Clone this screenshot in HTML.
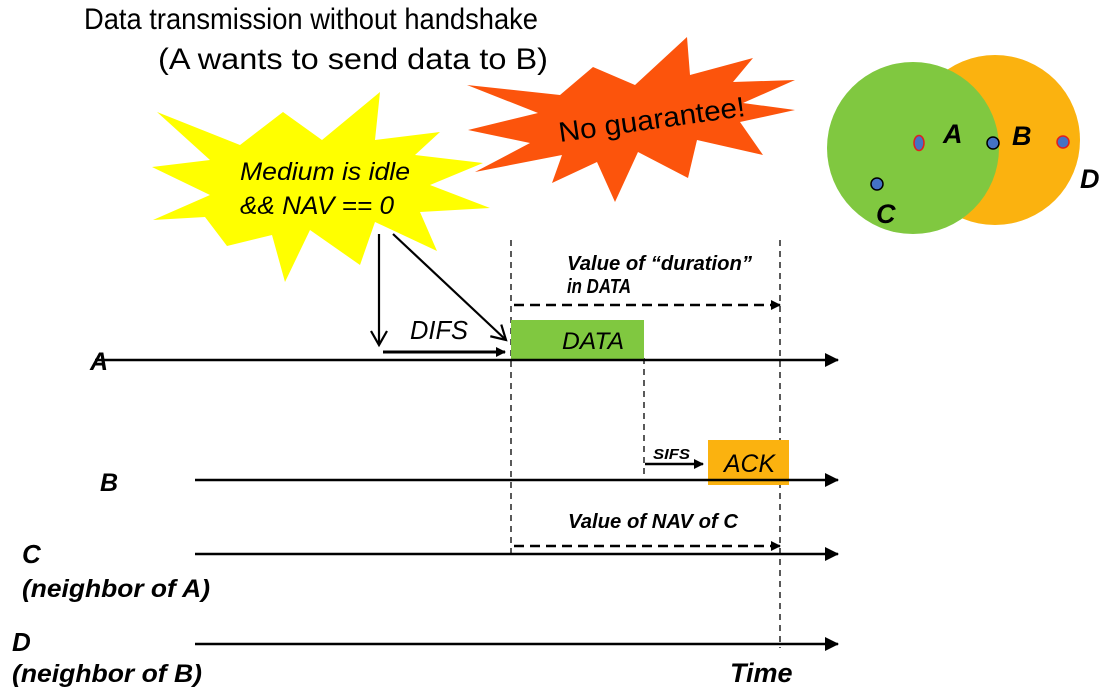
<!DOCTYPE html>
<html><head><meta charset="utf-8"><style>
html,body{margin:0;padding:0;background:#fff;width:1112px;height:696px;overflow:hidden}
svg{display:block}
text{font-family:"Liberation Sans",Arial,sans-serif}
.bi{font-weight:bold;font-style:italic}
</style></head><body>
<svg width="1112" height="696" viewBox="0 0 1112 696" xmlns="http://www.w3.org/2000/svg">
<defs>
<marker id="ah" markerWidth="10" markerHeight="10" refX="9" refY="5" orient="auto" markerUnits="userSpaceOnUse"><path d="M0,0 L10,5 L0,10 z" fill="#000"/></marker>
<marker id="ah2" markerWidth="14" markerHeight="14" refX="13" refY="7" orient="auto" markerUnits="userSpaceOnUse"><path d="M0,0 L14,7 L0,14 z" fill="#000"/></marker>
<marker id="oa" markerWidth="18" markerHeight="18" refX="15" refY="9" orient="auto" markerUnits="userSpaceOnUse"><path d="M1,1 L15,9 L1,17" fill="none" stroke="#000" stroke-width="2.2"/></marker>
</defs>
<text x="84" y="29" font-size="30" textLength="454" lengthAdjust="spacingAndGlyphs">Data transmission without handshake</text>
<text x="158" y="69" font-size="30" textLength="390" lengthAdjust="spacingAndGlyphs">(A wants to send data to B)</text>

<polygon fill="#ffff00" points="152,167 210,160 157,112 240,145 283,112 322,140 380,92 375,140 440,132 415,155 483,163 430,185 490,208 420,212 437,251 375,222 360,265 310,230 285,282 272,235 227,246 205,217 153,220 210,195"/>
<text x="240" y="180" font-size="25" font-style="italic" textLength="170" lengthAdjust="spacingAndGlyphs">Medium is idle</text>
<text x="240" y="214" font-size="25" font-style="italic" textLength="154" lengthAdjust="spacingAndGlyphs">&amp;&amp; NAV == 0</text>

<polygon fill="#fc540c" points="467,85 560,95 593,67 635,85 687,37 690,75 753,58 733,82 795,80 743,103 795,110 740,122 763,155 697,140 688,178 638,152 615,202 597,162 552,183 562,155 475,172 530,143 468,130 538,113"/>
<text x="560" y="142" font-size="28" transform="rotate(-8 560 142)" textLength="188" lengthAdjust="spacingAndGlyphs">No guarantee!</text>

<circle cx="995" cy="140" r="85" fill="#fbb20f"/>
<circle cx="913" cy="148" r="86" fill="#80c840"/>
<ellipse cx="919" cy="143" rx="5" ry="7.5" fill="#4472c4" stroke="#e02020" stroke-width="1.5"/>
<circle cx="993" cy="143" r="6" fill="#4472c4" stroke="#000" stroke-width="1.5"/>
<circle cx="1063" cy="142" r="6" fill="#4472c4" stroke="#e02020" stroke-width="1.5"/>
<circle cx="877" cy="184" r="6" fill="#4472c4" stroke="#000" stroke-width="1.5"/>
<text x="943" y="143" font-size="27" class="bi">A</text>
<text x="1012" y="145" font-size="27" class="bi">B</text>
<text x="1080" y="188" font-size="27" class="bi">D</text>
<text x="876" y="223" font-size="27" class="bi">C</text>

<line x1="511" y1="240" x2="511" y2="556" stroke="#000" stroke-width="1.3" stroke-dasharray="6,5"/>
<line x1="780" y1="240" x2="780" y2="648" stroke="#000" stroke-width="1.3" stroke-dasharray="6,5"/>
<line x1="644" y1="358" x2="644" y2="478" stroke="#000" stroke-width="1.3" stroke-dasharray="6,5"/>

<rect x="511" y="320" width="133" height="40" fill="#80c840"/>
<text x="562" y="349" font-size="24" font-style="italic" textLength="62" lengthAdjust="spacingAndGlyphs">DATA</text>
<rect x="708" y="440" width="81" height="45" fill="#fbb20f"/>
<text x="724" y="472" font-size="25" font-style="italic" textLength="51" lengthAdjust="spacingAndGlyphs">ACK</text>

<line x1="95" y1="360" x2="838" y2="360" stroke="#000" stroke-width="2.5" marker-end="url(#ah2)"/>
<line x1="195" y1="480" x2="838" y2="480" stroke="#000" stroke-width="2.5" marker-end="url(#ah2)"/>
<line x1="195" y1="554" x2="838" y2="554" stroke="#000" stroke-width="2.5" marker-end="url(#ah2)"/>
<line x1="195" y1="644" x2="838" y2="644" stroke="#000" stroke-width="2.5" marker-end="url(#ah2)"/>

<line x1="379" y1="234" x2="379" y2="345" stroke="#000" stroke-width="2.2" marker-end="url(#oa)"/>
<line x1="393" y1="234" x2="506" y2="340" stroke="#000" stroke-width="2.2" marker-end="url(#oa)"/>
<line x1="383" y1="352" x2="505" y2="352" stroke="#000" stroke-width="3" marker-end="url(#ah)"/>
<text x="410" y="339" font-size="26" font-style="italic" textLength="58" lengthAdjust="spacingAndGlyphs">DIFS</text>

<line x1="514" y1="305" x2="780" y2="305" stroke="#000" stroke-width="2.5" stroke-dasharray="10,6" marker-end="url(#ah)"/>
<text x="567" y="270" font-size="20" class="bi" textLength="185" lengthAdjust="spacingAndGlyphs">Value of “duration”</text>
<text x="567" y="293" font-size="20" class="bi" textLength="64" lengthAdjust="spacingAndGlyphs">in DATA</text>

<line x1="645" y1="464" x2="703" y2="464" stroke="#000" stroke-width="2.5" marker-end="url(#ah)"/>
<text x="653" y="459" font-size="15" class="bi" textLength="37" lengthAdjust="spacingAndGlyphs">SIFS</text>

<line x1="514" y1="546" x2="780" y2="546" stroke="#000" stroke-width="2.5" stroke-dasharray="10,6" marker-end="url(#ah)"/>
<text x="568" y="528" font-size="20" class="bi" textLength="170" lengthAdjust="spacingAndGlyphs">Value of NAV of C</text>

<text x="90" y="370" font-size="25" class="bi">A</text>
<text x="100" y="491" font-size="25" class="bi">B</text>
<text x="22" y="563" font-size="26" class="bi">C</text>
<text x="22" y="597" font-size="25" class="bi" textLength="188" lengthAdjust="spacingAndGlyphs">(neighbor of A)</text>
<text x="12" y="651" font-size="26" class="bi">D</text>
<text x="12" y="682" font-size="25" class="bi" textLength="190" lengthAdjust="spacingAndGlyphs">(neighbor of B)</text>
<text x="730" y="682" font-size="27" class="bi">Time</text>
</svg>
</body></html>
